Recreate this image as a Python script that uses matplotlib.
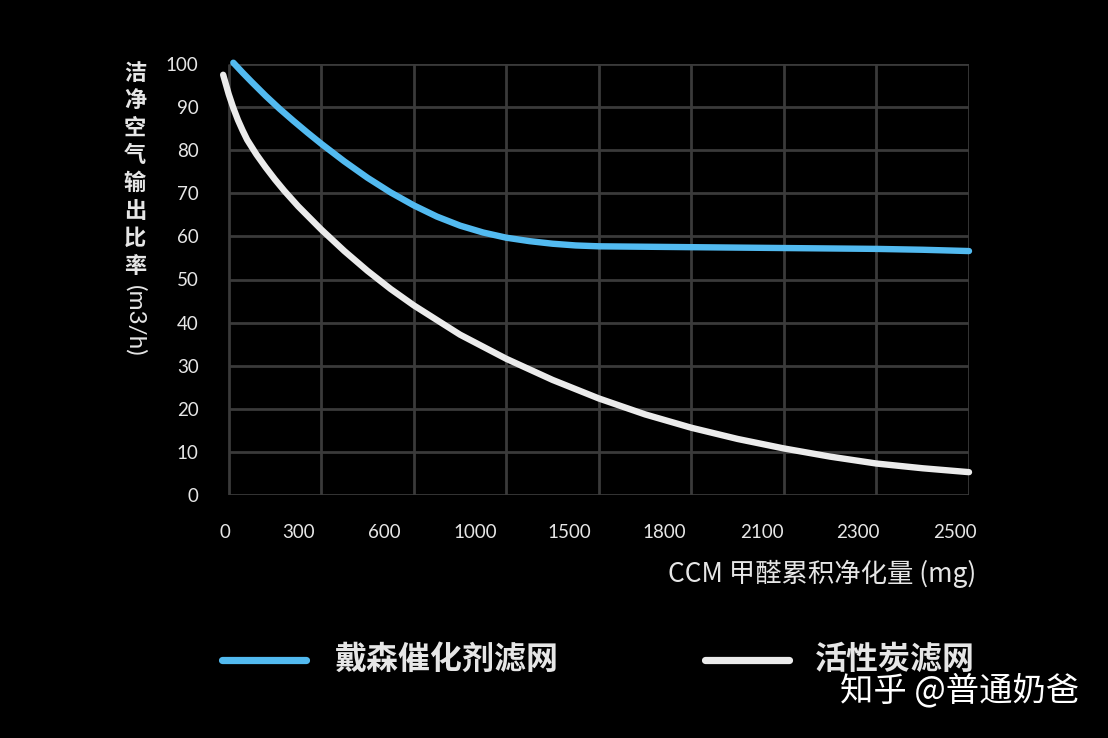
import matplotlib
matplotlib.use('Agg')
import matplotlib.pyplot as plt
from matplotlib.lines import Line2D

plt.rcParams['font.family'] = ['Noto Sans CJK SC', 'DejaVu Sans']

# ---------------- data (x in grid-column units, one column per tick label) ----------------
x_dyson = [0.05, 0.15, 0.25, 0.4, 0.55, 0.7, 0.85, 1.0, 1.25, 1.5, 1.75, 2.0, 2.25, 2.5, 2.75,
           3.0, 3.25, 3.5, 3.75, 4.0, 5.0, 6.0, 7.0, 7.5, 8.0]
y_dyson = [100.3, 98.0, 95.8, 92.6, 89.6, 86.8, 84.1, 81.5, 77.4, 73.6, 70.2, 67.2, 64.6, 62.5, 60.9,
           59.7, 58.9, 58.3, 57.9, 57.7, 57.5, 57.3, 57.1, 56.9, 56.6]

x_carbon = [-0.06, 0.0, 0.05, 0.1, 0.15, 0.2, 0.3, 0.4, 0.5, 0.6, 0.75, 1.0, 1.25, 1.5, 1.75, 2.0,
            2.5, 3.0, 3.5, 4.0, 4.5, 5.0, 5.5, 6.0, 6.5, 7.0, 7.5, 8.0]
y_carbon = [97.5, 93.0, 89.8, 87.0, 84.6, 82.4, 79.0, 76.0, 73.2, 70.6, 67.0, 61.6, 56.6, 52.0, 47.8, 44.0,
            37.2, 31.6, 26.7, 22.4, 18.7, 15.6, 13.0, 10.8, 8.9, 7.3, 6.2, 5.3]

x_tick_labels = ['0', '300', '600', '1000', '1500', '1800', '2100', '2300', '2500']
y_ticks = [0, 10, 20, 30, 40, 50, 60, 70, 80, 90, 100]
series_names = ['戴森催化剂滤网', '活性炭滤网']
y_label_chars = '洁净空气输出比率'
y_label_unit = '(m3/h)'
x_label = 'CCM 甲醛累积净化量 (mg)'
watermark = '知乎 @普通奶爸'

# ---------------- layout ----------------
W, H = 1108, 738
BLUE = '#52baf0'
WHITE = '#ebebeb'
GRID = '#3a3a3a'
TXT = '#e6e6e6'
NUM_FONT = ['Lato', 'DejaVu Sans']

fig = plt.figure(figsize=(W / 100, H / 100), dpi=100, facecolor='black')
ax = fig.add_axes([225 / W, 1 - 495 / H, 744 / W, 431 / H])
ax.set_facecolor('black')
ax.set_xlim(0, len(x_tick_labels) - 1)
ax.set_ylim(0, 100)
for s in ax.spines.values():
    s.set_visible(False)

ncols = len(x_tick_labels) - 1
ax.hlines(y_ticks, 0, ncols, colors=GRID, lw=2, zorder=1)
ax.vlines(range(ncols + 1), 0, 100, colors=GRID, lw=2, zorder=1)

ax.plot(x_carbon, y_carbon, color=WHITE, lw=4.6, solid_capstyle='round',
        solid_joinstyle='round', clip_on=False, zorder=3)
ax.plot(x_dyson, y_dyson, color=BLUE, lw=4.6, solid_capstyle='round',
        solid_joinstyle='round', clip_on=False, zorder=4)

# y ticks
ax.set_yticks(y_ticks)
ax.set_yticklabels([str(v) for v in y_ticks], fontsize=13.5, color=TXT, family=NUM_FONT)
ax.tick_params(axis='y', length=0, pad=19)

# x tick labels sit slightly left of the grid columns in the original
label_pos = [-0.04, 0.755, 1.677, 2.667, 3.68, 4.71, 5.76, 6.8, 7.85]
ax.set_xticks(label_pos)
ax.set_xticklabels(x_tick_labels, fontsize=13.5, color=TXT, family=NUM_FONT)
ax.tick_params(axis='x', length=0, pad=21)

# vertical y label
for i, ch in enumerate(y_label_chars):
    yc = 73 + i * 27.6
    fig.text(135 / W, 1 - yc / H, ch, ha='center', va='center', fontsize=16,
             fontweight='bold', color=TXT)
fig.text(135 / W, 1 - 321 / H, y_label_unit, ha='center', va='center', fontsize=17.5,
         rotation=-90, color=TXT, family=NUM_FONT)

# x label
fig.text(976 / W, 1 - 574 / H, x_label, ha='right', va='center', fontsize=19, color=TXT)

# legend
legend_items = [(series_names[0], BLUE, 222, 306, 335), (series_names[1], WHITE, 705, 789, 815)]
for name, col, x0, x1, xt in legend_items:
    fig.add_artist(Line2D([x0 / W, x1 / W], [1 - 660 / H, 1 - 660 / H], transform=fig.transFigure,
                          color=col, lw=5.2, solid_capstyle='round'))
    fig.text(xt / W, 1 - 660 / H, name, ha='left', va='center', fontsize=23,
             fontweight='bold', color=TXT)

# watermark
fig.text(840 / W, 1 - 691 / H, watermark, ha='left', va='center', fontsize=24, color='white')

fig.savefig('out.png', dpi=100, facecolor='black')
